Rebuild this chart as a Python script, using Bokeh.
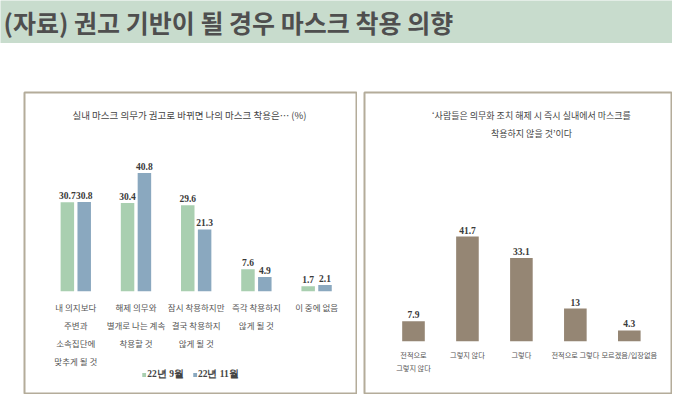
from bokeh.plotting import figure
from bokeh.layouts import column, row
from bokeh.models import Range1d, ColumnDataSource, Label, Legend, LegendItem
from bokeh.transform import dodge
from bokeh.embed import file_html
from bokeh.resources import INLINE
from bokeh.core.properties import value

# ---------------- data ----------------
page_title = "(자료) 권고 기반이 될 경우 마스크 착용 의향"

left_title = "실내 마스크 의무가 권고로 바뀌면 나의 마스크 착용은… (%)"
left_categories = [
    "내 의지보다\n주변과\n소속집단에\n맞추게 될 것",
    "해제 의무와\n별개로 나는 계속\n착용할 것",
    "잠시 착용하지만\n결국 착용하지\n않게 될 것",
    "즉각 착용하지\n않게 될 것",
    "이 중에 없음",
]
series_names = ["22년 9월", "22년 11월"]
sep_values = [30.7, 30.4, 29.6, 7.6, 1.7]
nov_values = [30.8, 40.8, 21.3, 4.9, 2.1]

right_title_lines = ["‘사람들은 의무화 조치 해제 시 즉시 실내에서 마스크를", "착용하지 않을 것’이다"]
right_categories = [
    "전적으로\n그렇지 않다",
    "그렇지 않다",
    "그렇다",
    "전적으로 그렇다",
    "모르겠음/입장없음",
]
right_values = [7.9, 41.7, 33.1, 13, 4.3]

# ---------------- styles ----------------
BAND = "#c8dccd"
GREEN = "#a9cfb0"
BLUE = "#8aa8bf"
BROWN = "#958674"
BORDER = "#b4ac9a"
KR = "Noto Sans CJK KR"
SERIF = "Liberation Serif"


def panel(width, height, xr, yr):
    p = figure(width=width, height=height, x_range=xr, y_range=yr,
               x_axis_type=None, y_axis_type=None, toolbar_location=None,
               output_backend="svg", min_border=1,
               background_fill_color="white", border_fill_color="white",
               outline_line_color=BORDER, outline_line_width=2)
    p.grid.visible = False
    return p


# ---------------- title band ----------------
tfig = figure(width=672, height=43, x_range=Range1d(0, 1), y_range=Range1d(0, 1),
              x_axis_type=None, y_axis_type=None, toolbar_location=None,
              output_backend="svg", min_border=0, outline_line_color=None,
              background_fill_color=BAND, border_fill_color=BAND)
tfig.grid.visible = False
tfig.add_layout(Label(x=3, y=22, x_units="screen", y_units="screen", text=page_title,
                      text_font=KR, text_font_size="25px", text_font_style="bold",
                      text_color="#4f4f4f", text_baseline="middle"))

# ---------------- left panel ----------------
idx = list(range(len(left_categories)))
lsrc = ColumnDataSource(dict(
    x=idx, cat=left_categories, sep=sep_values, nov=nov_values,
    sep_lbl=[f"{v:g}" for v in sep_values], nov_lbl=[f"{v:g}" for v in nov_values],
    zero=[0] * len(idx),
))
left = panel(334, 303, Range1d(-0.852, 4.663), Range1d(-35.28, 68.52))
r1 = left.vbar(x=dodge("x", -0.14), top="sep", width=0.224, source=lsrc,
               fill_color=GREEN, line_color=None)
r2 = left.vbar(x=dodge("x", 0.14), top="nov", width=0.224, source=lsrc,
               fill_color=BLUE, line_color=None)
left.text(x=dodge("x", -0.14), y="sep", text="sep_lbl", source=lsrc,
          text_font=value(SERIF), text_font_size="9.5px", text_font_style="bold",
          text_color="#3a3a3a", text_align="center", text_baseline="bottom", y_offset=-3)
left.text(x=dodge("x", 0.14), y="nov", text="nov_lbl", source=lsrc,
          text_font=value(SERIF), text_font_size="9.5px", text_font_style="bold",
          text_color="#3a3a3a", text_align="center", text_baseline="bottom", y_offset=-3)
left.text(x="x", y="zero", text="cat", source=lsrc, text_font=value(KR),
          text_font_size="8.5px", text_color="#555555", text_align="center",
          text_baseline="top", y_offset=10, text_line_height=1.5)
left.add_layout(Label(x=165, y=279, x_units="screen", y_units="screen", text=left_title,
                      text_font=KR, text_font_size="9.5px", text_color="#444444",
                      text_align="center", text_baseline="middle"))
legend = Legend(items=[LegendItem(label=series_names[0], renderers=[r1]),
                       LegendItem(label=series_names[1], renderers=[r2])],
                location="bottom_center", orientation="horizontal",
                glyph_width=5, glyph_height=5, label_height=10, label_standoff=1,
                spacing=8, padding=0, margin=12,
                label_text_font=SERIF, label_text_font_size="9.5px",
                label_text_font_style="bold", label_text_color="#444444",
                background_fill_alpha=0, border_line_color=None)
left.add_layout(legend)

# ---------------- right panel ----------------
ridx = list(range(len(right_categories)))
rsrc = ColumnDataSource(dict(
    x=ridx, cat=right_categories, val=right_values,
    lbl=[f"{v:g}" for v in right_values], zero=[0] * len(ridx),
))
right = panel(309, 303, Range1d(-0.908, 4.782), Range1d(-20.84, 99.08))
right.vbar(x="x", top="val", width=0.419, source=rsrc, fill_color=BROWN, line_color=None)
right.text(x="x", y="val", text="lbl", source=rsrc, text_font=value(SERIF),
           text_font_size="9.5px", text_font_style="bold", text_color="#3a3a3a",
           text_align="center", text_baseline="bottom", y_offset=-3)
right.text(x="x", y="zero", text="cat", source=rsrc, text_font=value(KR),
           text_font_size="7.2px", text_color="#555555", text_align="center",
           text_baseline="top", y_offset=9, text_line_height=1.32)
right.add_layout(Label(x=167, y=278, x_units="screen", y_units="screen",
                       text=right_title_lines[0], text_font=KR, text_font_size="9px",
                       text_color="#444444", text_align="center", text_baseline="middle"))
right.add_layout(Label(x=167, y=259.7, x_units="screen", y_units="screen",
                       text=right_title_lines[1], text_font=KR, text_font_size="9px",
                       text_color="#444444", text_align="center", text_baseline="middle"))

left.margin = (0, 0, 0, 23)
right.margin = (0, 0, 0, 6)
panels = row(left, right)
layout = column(tfig, panels, spacing=48)

open("out.html", "w").write(file_html(layout, INLINE))
